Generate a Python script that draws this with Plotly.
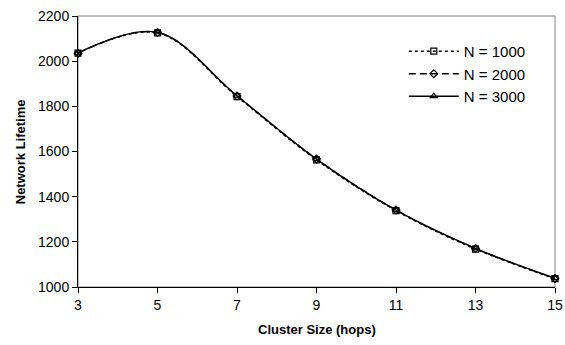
import plotly.graph_objects as go

cluster_size = [3, 5, 7, 9, 11, 13, 15]
lifetime_n1000 = [2036, 2125, 1843, 1563, 1338, 1168, 1037]
lifetime_n2000 = [2035, 2127, 1846, 1567, 1341, 1170, 1038]
lifetime_n3000 = [2037, 2128, 1847, 1566, 1340, 1171, 1039]
series_names = ["N = 1000", "N = 2000", "N = 3000"]
x_ticks = [3, 5, 7, 9, 11, 13, 15]
y_ticks = [1000, 1200, 1400, 1600, 1800, 2000, 2200]

styles = [
    dict(dash="3px,3px", symbol="square-open"),
    dict(dash="7px,4px", symbol="diamond-open"),
    dict(dash="solid", symbol="triangle-up-open"),
]

fig = go.Figure()
for name, vals, st in zip(series_names, [lifetime_n1000, lifetime_n2000, lifetime_n3000], styles):
    fig.add_trace(go.Scatter(
        x=cluster_size, y=vals, name=name, mode="lines+markers",
        line=dict(color="black", width=1.4, dash=st["dash"], shape="spline", smoothing=1),
        marker=dict(symbol=st["symbol"], size=6, color="black", line=dict(color="black", width=1.2)),
        cliponaxis=False,
    ))

font = dict(family="Liberation Sans, Arial, sans-serif", size=14, color="black")

fig.update_layout(
    width=565, height=345,
    margin=dict(l=78, r=10, t=16, b=58),
    paper_bgcolor="white", plot_bgcolor="white",
    font=font,
    showlegend=True,
    legend=dict(x=0.683, y=0.93, xanchor="left", yanchor="top",
                bgcolor="rgba(0,0,0,0)", font=dict(size=15), itemwidth=50,
                tracegroupgap=0),
    xaxis=dict(range=[3, 15], tickvals=x_ticks, showgrid=False, zeroline=False,
               showline=True, linecolor="black", linewidth=1, automargin=False,
               ticks="outside", ticklen=5, tickcolor="black", tickfont=font),
    yaxis=dict(range=[1000, 2200], tickvals=y_ticks, showgrid=False, zeroline=False,
               showline=True, linecolor="black", linewidth=1, automargin=False,
               ticks="outside", ticklen=5, tickcolor="black", tickfont=font),
    shapes=[dict(type="rect", xref="x domain", yref="y domain", x0=0, x1=1, y0=0, y1=1,
                 line=dict(color="#808080", width=1), layer="below")],
    annotations=[
        dict(text="<b>Cluster Size (hops)</b>", xref="paper", yref="paper", x=0.5, y=-0.12,
             xanchor="center", yanchor="top", showarrow=False, font=dict(size=13, family=font["family"])),
        dict(text="<b>Network Lifetime</b>", xref="paper", yref="paper", x=-0.12, y=0.5,
             xanchor="center", yanchor="middle", textangle=-90, showarrow=False,
             font=dict(size=13, family=font["family"])),
    ],
)

fig.write_html("out.html", config={"displayModeBar": False},
               post_script="document.body.style.margin='0';")
